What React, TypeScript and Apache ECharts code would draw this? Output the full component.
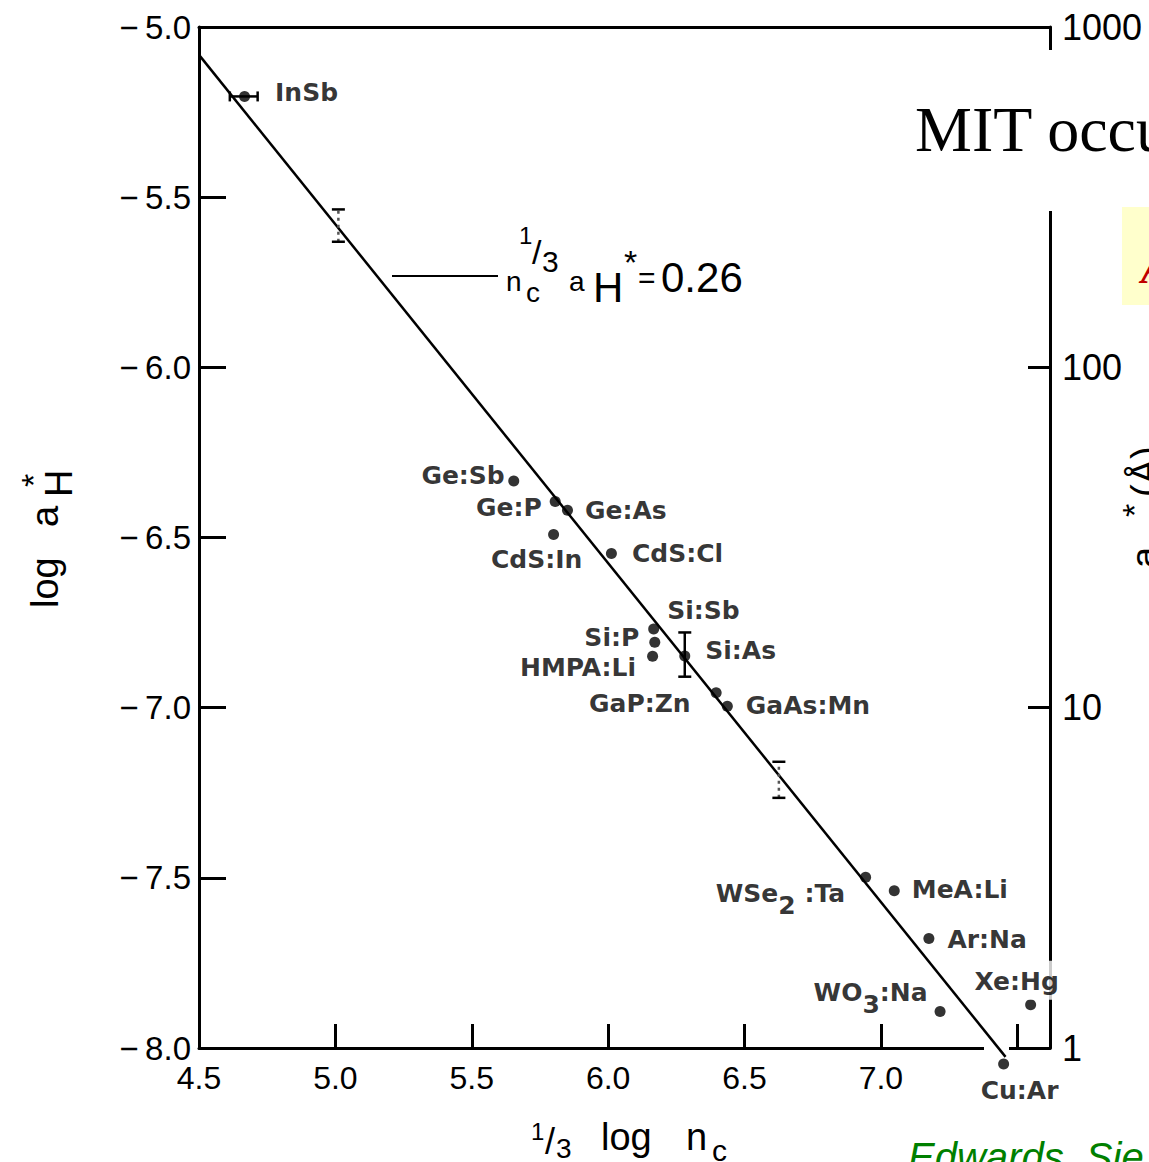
import React, { useEffect, useRef } from "react";
import * as echarts from "echarts";

// ---- data ----
const materials = [
  "InSb", "Ge:Sb", "Ge:P", "Ge:As", "CdS:In", "CdS:Cl", "Si:Sb", "Si:P", "HMPA:Li",
  "Si:As", "GaP:Zn", "GaAs:Mn", "WSe2:Ta", "MeA:Li", "Ar:Na", "WO3:Na", "Xe:Hg", "Cu:Ar",
];
const logNc = [
  4.667, 5.654, 5.806, 5.851, 5.8, 6.012, 6.167, 6.171, 6.163,
  6.281, 6.396, 6.437, 6.944, 7.049, 7.176, 7.217, 7.549, 7.45,
];
const logAH = [
  -5.204, -6.334, -6.394, -6.42, -6.491, -6.547, -6.769, -6.808, -6.849,
  -6.848, -6.956, -6.996, -7.498, -7.538, -7.678, -7.893, -7.873, -8.047,
];

// fitted line n_c^(1/3) a_H* = 0.26 (end points)
const fitX = [4.5, 7.457];
const fitY = [-5.082, -8.026];

// vertical error bars
const vBarX = [5.011, 6.281, 6.626];
const vBarLow = [-5.631, -6.909, -7.265];
const vBarHigh = [-5.536, -6.779, -7.159];
// horizontal error bar (InSb)
const hBarY = [-5.204];
const hBarLow = [4.613];
const hBarHigh = [4.715];

// axis ticks
const xTicks = [4.5, 5.0, 5.5, 6.0, 6.5, 7.0];
const rightTicks = [1, 10, 100, 1000];

// ---- styles ----
const vBarDashed = [true, false, true];
const labelPlace: Record<string, [string, number, number]> = {
  "InSb": ["right", 20, -2],
  "Ge:Sb": ["left", 1.5, -4],
  "Ge:P": ["left", -3, 8],
  "Ge:As": ["right", 7, 2],
  "CdS:In": ["bottom", -17, 2.5],
  "CdS:Cl": ["right", 10, 2],
  "Si:Sb": ["right", 3, -17],
  "Si:P": ["left", -5, -3],
  "HMPA:Li": ["left", -6, 13],
  "Si:As": ["right", 10, -4],
  "GaP:Zn": ["left", -15, 12],
  "GaAs:Mn": ["right", 8, 1],
  "WSe2:Ta": ["left", -10, 18],
  "MeA:Li": ["right", 7, 0],
  "Ar:Na": ["right", 8, 3],
  "WO3:Na": ["left", -2, -18],
  "Xe:Hg": ["top", -14, 5.5],
  "Cu:Ar": ["bottom", 16, 3.5],
};
const richName: Record<string, string> = {
  "WSe2:Ta": "{t|WSe}{s|2}{t| :Ta}",
  "WO3:Na": "{t|WO}{s|3}{t|:Na}",
};

const LBL_FONT = "DejaVu Sans";
const SANS = "Liberation Sans";

function txt(x: number, y: number, text: string, fontSize: number, extra: any = {}) {
  return {
    type: "text",
    x,
    y,
    z: 10,
    style: {
      text,
      fontSize,
      fontFamily: SANS,
      fill: "#000",
      align: "left",
      verticalAlign: "middle",
      ...extra,
    },
  };
}

export default function App() {
  const ref = useRef<HTMLDivElement>(null);

  useEffect(() => {
    if (!ref.current) return;
    const chart = echarts.init(ref.current, undefined, { renderer: "svg" });

    const axisLineStyle = { color: "#000", width: 3 };

    const scatterData = materials.map((name, i) => {
      const p = labelPlace[name];
      const item: any = {
        name,
        value: [logNc[i], logAH[i]],
        label: { position: p[0], offset: [p[1], p[2]] },
      };
      if (name === "Xe:Hg") {
        item.label.backgroundColor = "#fff";
        item.label.padding = [8, 2, 3, 2];
      }
      return item;
    });

    const option: any = {
      animation: false,
      backgroundColor: "#fff",
      grid: { left: 199, right: 99, top: 27, bottom: 114, containLabel: false },
      xAxis: [
        {
          type: "value",
          min: 4.5,
          max: 7.62,
          interval: 0.5,
          position: "bottom",
          axisLine: { show: true, onZero: false, lineStyle: axisLineStyle },
          axisTick: { show: true, inside: true, length: 24, lineStyle: { color: "#000", width: 3 } },
          axisLabel: {
            show: true,
            margin: 14,
            color: "#000",
            fontSize: 32,
            fontFamily: SANS,
            formatter: (v: number) => (xTicks.some((t) => Math.abs(t - v) < 1e-6) ? v.toFixed(1) : ""),
          },
          splitLine: { show: false },
        },
        {
          type: "value",
          min: 4.5,
          max: 7.62,
          position: "top",
          axisLine: { show: true, onZero: false, lineStyle: axisLineStyle },
          axisTick: { show: false },
          axisLabel: { show: false },
          splitLine: { show: false },
        },
      ],
      yAxis: [
        {
          type: "value",
          min: -8,
          max: -5,
          interval: 0.5,
          position: "left",
          axisLine: { show: true, onZero: false, lineStyle: axisLineStyle },
          axisTick: { show: true, inside: true, length: 27, lineStyle: { color: "#000", width: 3 } },
          axisLabel: {
            margin: 8,
            color: "#000",
            fontSize: 33,
            fontFamily: SANS,
            formatter: (v: number) => "\u2212\u2009" + Math.abs(v).toFixed(1),
          },
          splitLine: { show: false },
        },
        {
          type: "log",
          logBase: 10,
          min: 1,
          max: 1000,
          position: "right",
          axisLine: { show: true, onZero: false, lineStyle: axisLineStyle },
          axisTick: { show: true, inside: true, length: 22, lineStyle: { color: "#000", width: 3 } },
          minorTick: { show: false },
          axisLabel: {
            margin: 12,
            color: "#000",
            fontSize: 36,
            fontFamily: SANS,
            formatter: (v: number) => (rightTicks.includes(Math.round(v)) ? String(Math.round(v)) : ""),
          },
          splitLine: { show: false },
        },
      ],
      series: [
        {
          type: "line",
          xAxisIndex: 0,
          yAxisIndex: 0,
          data: fitX.map((x, i) => [x, fitY[i]]),
          showSymbol: false,
          symbol: "none",
          clip: false,
          silent: true,
          lineStyle: { color: "#000", width: 2.5 },
          z: 2,
        },
        {
          type: "scatter",
          xAxisIndex: 0,
          yAxisIndex: 0,
          data: scatterData,
          symbol: "circle",
          symbolSize: 11,
          clip: false,
          itemStyle: { color: "#000" },
          z: 4,
          label: {
            show: true,
            color: "#000",
            fontFamily: LBL_FONT,
            fontWeight: "bold",
            fontSize: 25,
            lineHeight: 28,
            formatter: (p: any) => richName[p.name] || `{t|${p.name}}`,
            rich: {
              t: {
                color: "#000",
                fontFamily: LBL_FONT,
                fontWeight: "bold",
                fontSize: 25,
                lineHeight: 28,
                verticalAlign: "top",
              },
              s: {
                color: "#000",
                fontFamily: LBL_FONT,
                fontWeight: "bold",
                fontSize: 25,
                lineHeight: 28,
                padding: [12, 0, 0, 0],
                verticalAlign: "top",
              },
            },
          },
        },
        {
          type: "custom",
          xAxisIndex: 0,
          yAxisIndex: 0,
          clip: false,
          silent: true,
          z: 3,
          data: vBarX.map((x, i) => [x, vBarLow[i], vBarHigh[i], vBarDashed[i] ? 1 : 0]),
          encode: { x: 0, y: [1, 2] },
          renderItem: (params: any, api: any) => {
            const x = api.value(0);
            const p1 = api.coord([x, api.value(1)]);
            const p2 = api.coord([x, api.value(2)]);
            const dashed = api.value(3) === 1;
            const w = 6.5;
            const s = { stroke: "#000", lineWidth: 2.5 };
            return {
              type: "group",
              children: [
                {
                  type: "line",
                  shape: { x1: p1[0], y1: p1[1], x2: p2[0], y2: p2[1] },
                  style: { ...s, stroke: dashed ? "#555" : "#000", lineDash: dashed ? [3, 4] : null },
                },
                { type: "line", shape: { x1: p1[0] - w, y1: p1[1], x2: p1[0] + w, y2: p1[1] }, style: s },
                { type: "line", shape: { x1: p2[0] - w, y1: p2[1], x2: p2[0] + w, y2: p2[1] }, style: s },
              ],
            };
          },
        },
        {
          type: "custom",
          xAxisIndex: 0,
          yAxisIndex: 0,
          clip: false,
          silent: true,
          z: 3,
          data: hBarY.map((y, i) => [hBarLow[i], hBarHigh[i], y]),
          encode: { x: [0, 1], y: 2 },
          renderItem: (params: any, api: any) => {
            const y = api.value(2);
            const p1 = api.coord([api.value(0), y]);
            const p2 = api.coord([api.value(1), y]);
            const h = 5;
            const s = { stroke: "#000", lineWidth: 2.5 };
            return {
              type: "group",
              children: [
                { type: "line", shape: { x1: p1[0], y1: p1[1], x2: p2[0], y2: p2[1] }, style: s },
                { type: "line", shape: { x1: p1[0], y1: p1[1] - h, x2: p1[0], y2: p1[1] + h }, style: s },
                { type: "line", shape: { x1: p2[0], y1: p2[1] - h, x2: p2[0], y2: p2[1] + h }, style: s },
              ],
            };
          },
        },
      ],
      graphic: [
        // breaks in the frame (drawn above axes, below series)
        { type: "rect", z: 1, shape: { x: 1038, y: 50, width: 111, height: 161 }, style: { fill: "#fff" } },
        { type: "rect", z: 1, shape: { x: 984, y: 1043, width: 25, height: 10 }, style: { fill: "#fff" } },
        // overlapping slide fragments
        { type: "rect", z: 1, shape: { x: 1122, y: 207, width: 30, height: 98 }, style: { fill: "#FFFFCC" } },
        txt(1141, 268, "A", 44, { fontFamily: "Liberation Serif", fontStyle: "italic", fontWeight: "bold", fill: "#C00000" }),
        txt(915, 129, "MIT occu", 64, { fontFamily: "Liberation Serif" }),
        txt(908, 1157, "Edwards, Sie", 40, { fontStyle: "italic", fill: "#008000" }),
        // annotation n_c^(1/3) a_H* = 0.26
        { type: "line", z: 10, shape: { x1: 392, y1: 276, x2: 498, y2: 276 }, style: { stroke: "#000", lineWidth: 2 } },
        txt(506, 281, "n", 28),
        txt(526, 292, "c", 28),
        txt(519, 235, "1", 24),
        txt(532, 252, "/", 34),
        txt(542, 261, "3", 30),
        txt(569, 281, "a", 28),
        txt(593, 287, "H", 42),
        txt(624, 262, "*", 34),
        txt(638, 277, "=", 30),
        txt(661, 277, "0.26", 42),
        // x axis name: 1/3 log n_c
        txt(531, 1131, "1", 24),
        txt(545, 1141, "/", 36),
        txt(556, 1148, "3", 28),
        txt(601, 1137, "log", 38),
        txt(686, 1137, "n", 38),
        txt(712, 1150, "c", 30),
        // y axis name: log a_H*
        {
          type: "group",
          x: 58,
          y: 608,
          rotation: Math.PI / 2,
          z: 10,
          children: [
            txt(0, -13, "log", 38),
            txt(81, -13, "a", 38),
            txt(111, 1, "H", 38),
            txt(121, -25, "*", 34),
          ],
        },
        // right axis name: a_H*(Å)
        {
          type: "group",
          x: 1158,
          y: 568,
          rotation: Math.PI / 2,
          z: 10,
          children: [
            txt(0, -13, "a", 38),
            txt(23, 6, "H", 38),
            txt(51, -24, "*", 34),
            txt(71, -13, "(Å)", 38),
          ],
        },
      ],
    };

    chart.setOption(option);
    return () => chart.dispose();
  }, []);

  return (
    <div
      ref={ref}
      style={{ position: "absolute", left: 0, top: 0, width: 1149, height: 1162, background: "#fff" }}
    />
  );
}
